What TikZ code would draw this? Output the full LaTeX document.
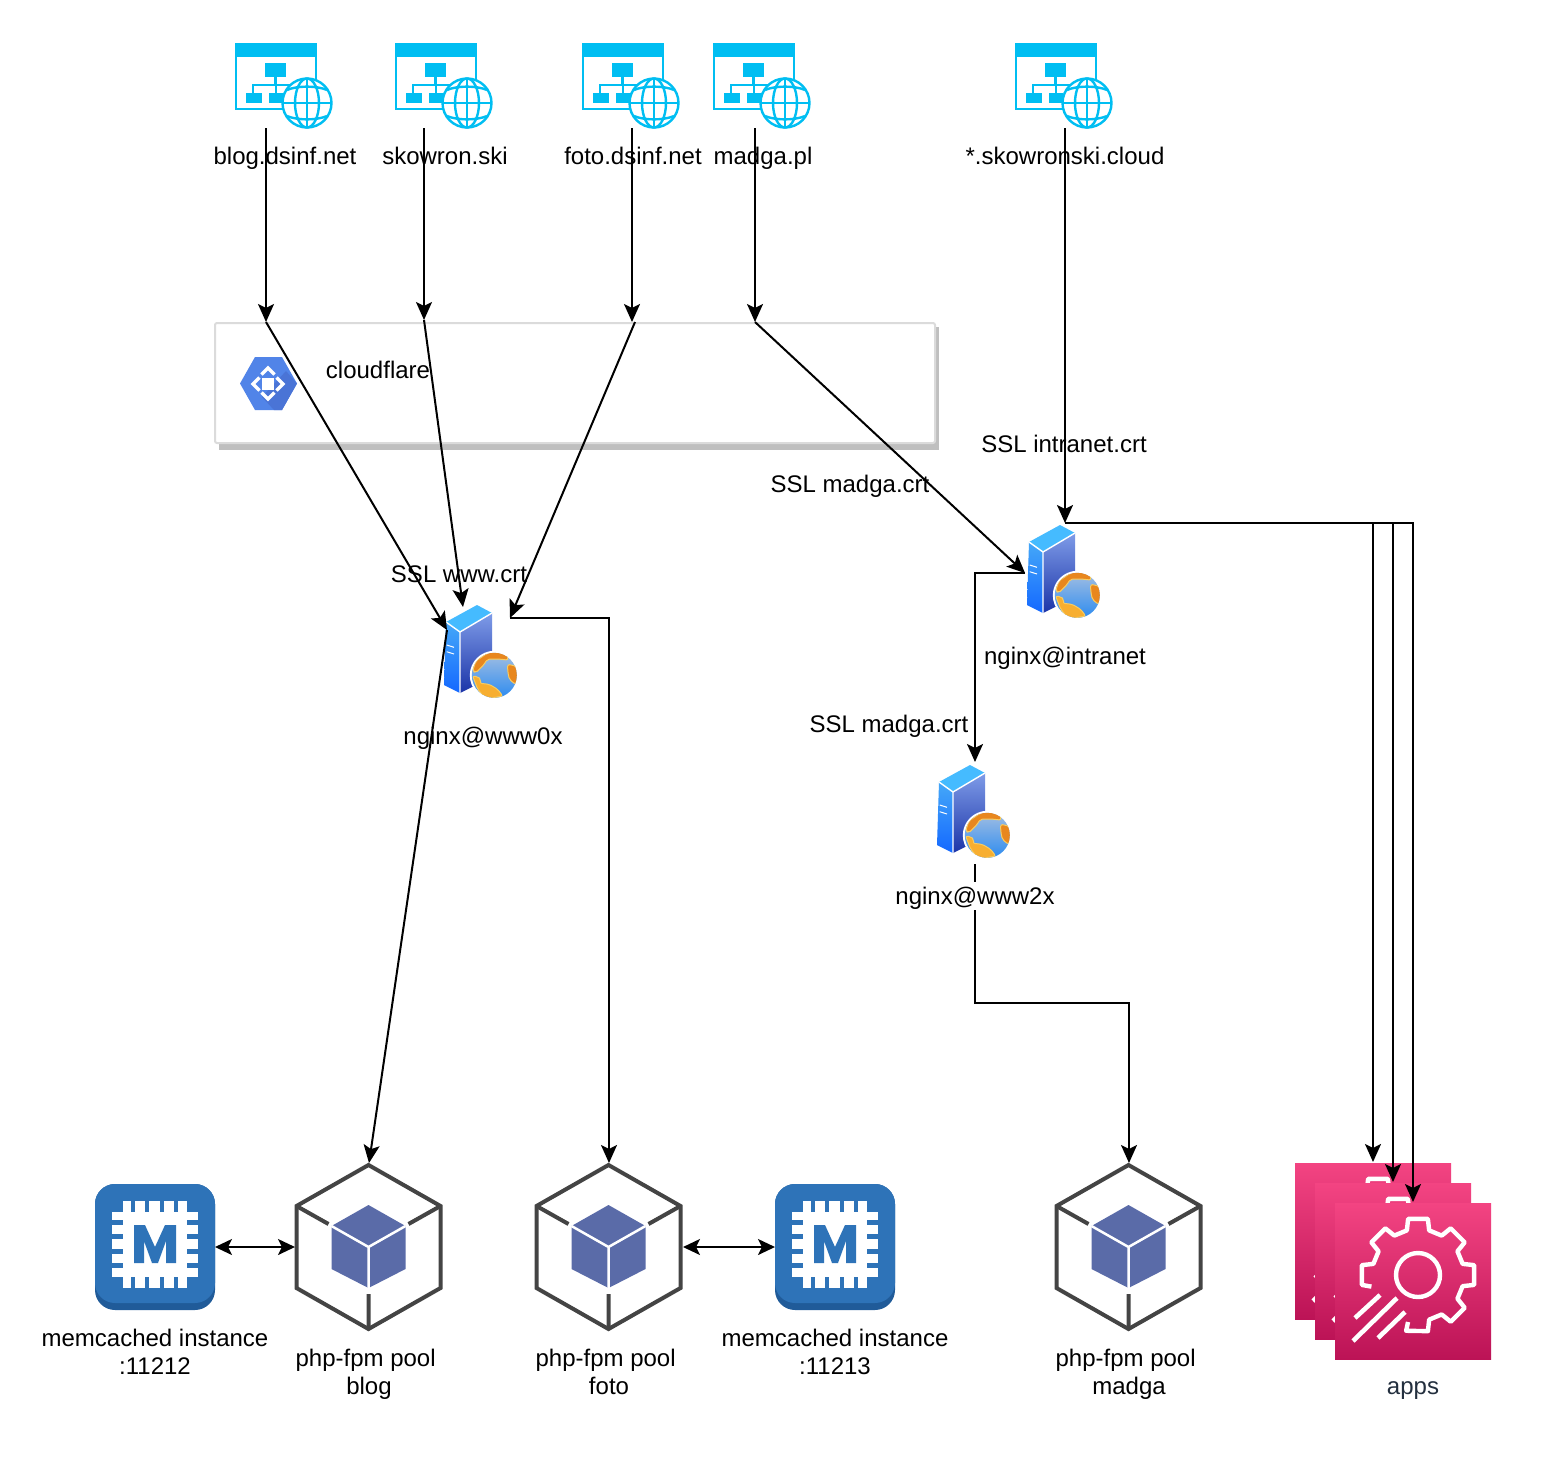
\documentclass[tikz,border=0pt]{standalone}
\usepackage{fontspec}
\setmainfont{Liberation Sans}
\usetikzlibrary{arrows.meta}
\definecolor{sitecol}{HTML}{00BEF2}
\definecolor{cubeline}{HTML}{444444}
\definecolor{cubefill}{HTML}{5A6BA8}
\definecolor{memblue}{HTML}{2E73B8}
\definecolor{memdark}{HTML}{205B99}
\definecolor{appstop}{HTML}{F34482}
\definecolor{appsbot}{HTML}{BC1356}
\definecolor{hexblue}{HTML}{5184E8}
\definecolor{hexdark}{HTML}{4A74D6}
\definecolor{appstext}{HTML}{232F3E}
\definecolor{landdark}{HTML}{E8871E}
\definecolor{landlight}{HTML}{F7AE30}
\definecolor{landedge}{HTML}{F7CC62}
\definecolor{seatop}{HTML}{A4BFE2}
\definecolor{seabot}{HTML}{2A8AF0}
\definecolor{srvtop}{HTML}{45BBFF}
\definecolor{srvlefta}{HTML}{45A8F8}
\definecolor{srvleftb}{HTML}{1468FF}
\definecolor{srvrighta}{HTML}{7F9CE8}
\definecolor{srvrightb}{HTML}{1B34A8}
\newcommand{\ls}{\rule[-5.5pt]{0pt}{28pt}}
\tikzset{
  lbl/.style={font=\fontsize{24}{28}\selectfont,inner sep=0pt,align=center,text=black},
  conn/.style={draw=black,line width=2pt,-{Stealth[length=18pt,width=16pt,inset=4pt]}},
  dblconn/.style={draw=black,line width=2pt,{Stealth[length=17pt,width=16pt,inset=4pt]}-{Stealth[length=17pt,width=16pt,inset=4pt]}},
  siteicon/.pic={
    \draw[sitecol,line width=2pt] (1,14) -- (1,66) -- (60,66);
    \draw[sitecol,line width=2pt] (80.5,14) -- (80.5,38);
    \fill[sitecol] (0,0) rectangle (82,14);
    \fill[sitecol] (30,20) rectangle (51,34);
    \fill[sitecol] (11,50) rectangle (27,60);
    \fill[sitecol] (34,50) rectangle (48,60);
    \draw[sitecol,line width=2.2pt] (40.5,34) -- (40.5,42) (18,50) -- (18,42) -- (62,42) (41,42) -- (41,50);
    \draw[sitecol,line width=2.4pt,fill=white] (72,60) circle (24.5);
    \draw[sitecol,line width=2.4pt] (72,60) ellipse (12 and 24.5);
    \draw[sitecol,line width=2.4pt] (72,35.5) -- (72,84.5) (47.5,60) -- (96.5,60);
    \draw[sitecol,line width=2.4pt] (52,47) .. controls (62,42.5) and (82,42.5) .. (92,47);
    \draw[sitecol,line width=2.4pt] (52,73) .. controls (62,77.5) and (82,77.5) .. (92,73);
  },
  servericon/.pic={
    \fill[srvtop] (34,0) -- (49,8) -- (17,27) -- (3,17) -- cycle;
    \shade[top color=srvlefta,bottom color=srvleftb] (3,17) -- (17,27) -- (17,88) -- (1,80) -- cycle;
    \shade[top color=srvrighta,bottom color=srvrightb] (17,27) -- (49,8) -- (49,72) -- (17,88) -- cycle;
    \draw[white,line width=1.4pt] (3,17) -- (17,27) -- (49,8) (17,27) -- (17,88);
    \draw[white,line width=1pt] (3.7,40) -- (11,42.3) (3.7,46.7) -- (11,49);
    \fill[white] (51.3,70.3) circle (24.5);
    \begin{scope}
      \clip (51.3,70.3) circle (22.5);
      \shade[top color=seatop,bottom color=seabot] (28,47) rectangle (75,94);
      \filldraw[fill=landdark,draw=landedge,line width=1pt,rounded corners=2pt]
        (29.5,66) -- (33,56) -- (43,49) -- (50,46) -- (64,47) -- (65,55) -- (55,54) -- (44,54.3) -- (41.3,59.3) -- (36.3,64.3) -- (33,67.7) -- cycle;
      \filldraw[fill=landdark,draw=landedge,line width=1pt,rounded corners=2pt]
        (64.7,59.3) -- (73,61) -- (76,71) -- (72.3,79.3) -- (66.3,74.3) -- (64.7,66) -- cycle;
      \filldraw[fill=landlight,draw=landedge,line width=1pt,rounded corners=2pt]
        (29.7,71) -- (34.7,71.7) -- (38,74.3) -- (37,78.3) -- (46.3,79.3) -- (54.7,84.3) -- (59.7,91) -- (43,94) -- (34.7,84.3) -- cycle;
    \end{scope}
  },
  cubeicon/.pic={
    \draw[cubeline,line width=4pt,line join=miter] (0,-41) -- (72,0) -- (72,82) -- (0,123) -- (-72,82) -- (-72,0) -- cycle;
    \draw[cubeline,line width=4pt] (-72,0) -- (-40,18) (72,0) -- (40,18) (0,123) -- (0,88);
    \fill[cubefill] (0,-1) -- (37,20) -- (37,63) -- (0,82) -- (-37,63) -- (-37,20) -- cycle;
    \draw[white,line width=2.5pt] (0,41) -- (-37,20) (0,41) -- (37,20) (0,41) -- (0,86);
  },
  memicon/.pic={
    \fill[memdark] (0,0) [rounded corners=20pt] rectangle (120,126);
    \fill[memblue] (0,0) [rounded corners=20pt] rectangle (120,119);
    \fill[white] (28,17) rectangle (92,104);
    \fill[white] (17,28) rectangle (103,93);
    \foreach \p in {38,52,67,81}{
      \fill[memblue] ({\p-2.2},16) rectangle ({\p+2.2},28);
      \fill[memblue] ({\p-2.2},93) rectangle ({\p+2.2},105);
      \fill[memblue] (16,{\p-2.2+0.6}) rectangle (28,{\p+2.2+0.6});
      \fill[memblue] (92,{\p-2.2+0.6}) rectangle (104,{\p+2.2+0.6});
    }
    \fill[memblue] (39,79) -- (39,41) -- (50,41) -- (60,63) -- (70,41) -- (81,41) -- (81,79) -- (71,79) -- (71,57) -- (63,79) -- (57,79) -- (49,57) -- (49,79) -- cycle;
  },
  appicon/.pic={
    \shade[top color=appstop,bottom color=appsbot] (0,0) rectangle (156,156);
    \begin{scope}[shift={(83,72)}]
      \draw[white,line width=4.4pt,line join=round]
        ({48*cos(194)},{-48*sin(194)})
        \foreach \a in {180,135,90,45,0,-45}{
          -- ({57*cos(\a+10)},{-57*sin(\a+10)})
          -- ({57*cos(\a-10)},{-57*sin(\a-10)})
          -- ({46*cos(\a-14)},{-46*sin(\a-14)})
          -- ({46*cos(\a-31)},{-46*sin(\a-31)})
        }
        -- ({57*cos(-80)},{-57*sin(-80)})
        -- ({57*cos(-102)},{-57*sin(-102)})
        -- ({48*cos(-102)},{-48*sin(-102)});
      \draw[white,line width=4.4pt] (0,0) circle (22);
    \end{scope}
    \draw[white,line width=4.6pt] (20,115) -- (45,92) (18,138) -- (62,95) (43,135) -- (70,109);
  }
}
\begin{document}
\begin{tikzpicture}[x=1pt,y=-1pt]
\useasboundingbox[fill=white] (0,0) rectangle (1550,1460);

% site icons
\pic at (235,43) {siteicon};
\pic at (395,43) {siteicon};
\pic at (582,43) {siteicon};
\pic at (713,43) {siteicon};
\pic at (1015,43) {siteicon};

% labels under the sites
\node[lbl] (lblog) at (285,156) {\ls blog.dsinf.net};
\node[lbl] (lskow) at (445,156) {\ls skowron.ski};
\node[lbl] (lfoto) at (633,156) {\ls foto.dsinf.net};
\node[lbl] (lmadga) at (763,156) {\ls madga.pl};
\node[lbl] (lcloud) at (1065,156) {\ls *.skowronski.cloud};

% cloudflare box
\fill[black!25] (218.5,327) rectangle (939,449.5);
\draw[black!14,line width=2pt,fill=white,rounded corners=2pt] (215,323) rectangle (935,443);
\fill[hexblue] (240,383.5) -- (255,357) -- (282,357) -- (297,383.5) -- (282,410) -- (255,410) -- cycle;
\fill[hexdark] (282,410) -- (297,383.5) -- (286,371) -- (262,397) -- (274,410) -- cycle;
\fill[white] (262,378) rectangle (274,390);
\draw[white,line width=3.4pt] (261.5,374.5) -- (268,368) -- (274.5,374.5)
  (261.5,392.5) -- (268,399) -- (274.5,392.5)
  (259.5,377.5) -- (253,384) -- (259.5,390.5)
  (276.5,377.5) -- (283,384) -- (276.5,390.5);
\node[lbl] (lcf) at (378,370) {\ls cloudflare};

% servers
\pic at (443,605) {servericon};
\pic at (1026,525) {servericon};
\pic at (936,765) {servericon};

\node[lbl] (lssli) at (1064,444) {\ls SSL intranet.crt};
\node[lbl] (lsslm) at (850,484) {\ls SSL madga.crt};
\node[lbl] (lsslw) at (459,574) {\ls SSL www.crt};
\node[lbl] (lngi) at (1065,656) {\ls nginx@intranet};
\node[lbl] (lng0) at (483,736) {\ls nginx@www0x};
\node[lbl] (lsslm2) at (889,724) {\ls SSL madga.crt};

% bottom icons
\pic at (95,1184) {memicon};
\pic at (775,1184) {memicon};
\pic at (368.5,1206) {cubeicon};
\pic at (608.5,1206) {cubeicon};
\pic at (1128.5,1206) {cubeicon};
\pic at (1295,1163) {appicon};
\pic at (1315,1183) {appicon};
\pic at (1335,1203) {appicon};

\node[lbl] (lmem1) at (155,1352) {\ls memcached instance\\\ls :11212};
\node[lbl] (lmem2) at (835,1352) {\ls memcached instance\\\ls :11213};
\node[lbl] (lp1) at (369,1372) {\ls php-fpm pool\kern6.7pt\\\ls blog};
\node[lbl] (lp2) at (609,1372) {\ls php-fpm pool\kern6.7pt\\\ls foto};
\node[lbl] (lp3) at (1129,1372) {\ls php-fpm pool\kern6.7pt\\\ls madga};
\node[lbl,text=appstext] (lapps) at (1413,1386) {\ls apps};

% connector anchor points
\coordinate (s1) at (266,128);
\coordinate (s2) at (424,128);
\coordinate (s3) at (632,128);
\coordinate (s4) at (755,128);
\coordinate (s5) at (1065,128);
\coordinate (c1) at (266,322);
\coordinate (c2) at (424,320);
\coordinate (c3) at (632,322);
\coordinate (c3b) at (635,322);
\coordinate (c4) at (755,322);
\coordinate (w0a) at (447,630);
\coordinate (w0b) at (463,607);
\coordinate (w0c) at (510,618);
\coordinate (ia) at (1025,573);
\coordinate (ib) at (1065,523);
\coordinate (w2) at (975,762);
\coordinate (w2b) at (975,864);
\coordinate (p1) at (369,1163);
\coordinate (p2) at (609,1163);
\coordinate (p3) at (1129,1163);
\coordinate (a1) at (1373,1162);
\coordinate (a2) at (1393,1182);
\coordinate (a3) at (1413,1202);
\coordinate (m1r) at (215,1247);
\coordinate (p1l) at (295,1247);
\coordinate (p2r) at (683,1247);
\coordinate (m2l) at (775,1247);

% connectors
\draw[conn] (s1) -- (c1);
\draw[conn] (s2) -- (c2);
\draw[conn] (s3) -- (c3);
\draw[conn] (s4) -- (c4);
\draw[conn] (s5) -- (ib);
\draw[conn] (c1) -- (w0a);
\draw[conn] (c2) -- (w0b);
\draw[conn] (c3b) -- (w0c);
\draw[conn] (c4) -- (ia);
\draw[conn] (w0a) -- (p1);
\draw[conn] (w0c) -| (p2);
\draw[conn] (ia) -| (w2);
\draw[conn] (w2b) -- (975,1003) -| (p3);
\draw[conn] (ib) -| (a1);
\draw[conn] (ib) -| (a2);
\draw[conn] (ib) -| (a3);
\draw[dblconn] (m1r) -- (p1l);
\draw[dblconn] (p2r) -- (m2l);

\node[lbl,fill=white] (lng2) at (975,896) {\ls nginx@www2x};
\end{tikzpicture}
\end{document}
